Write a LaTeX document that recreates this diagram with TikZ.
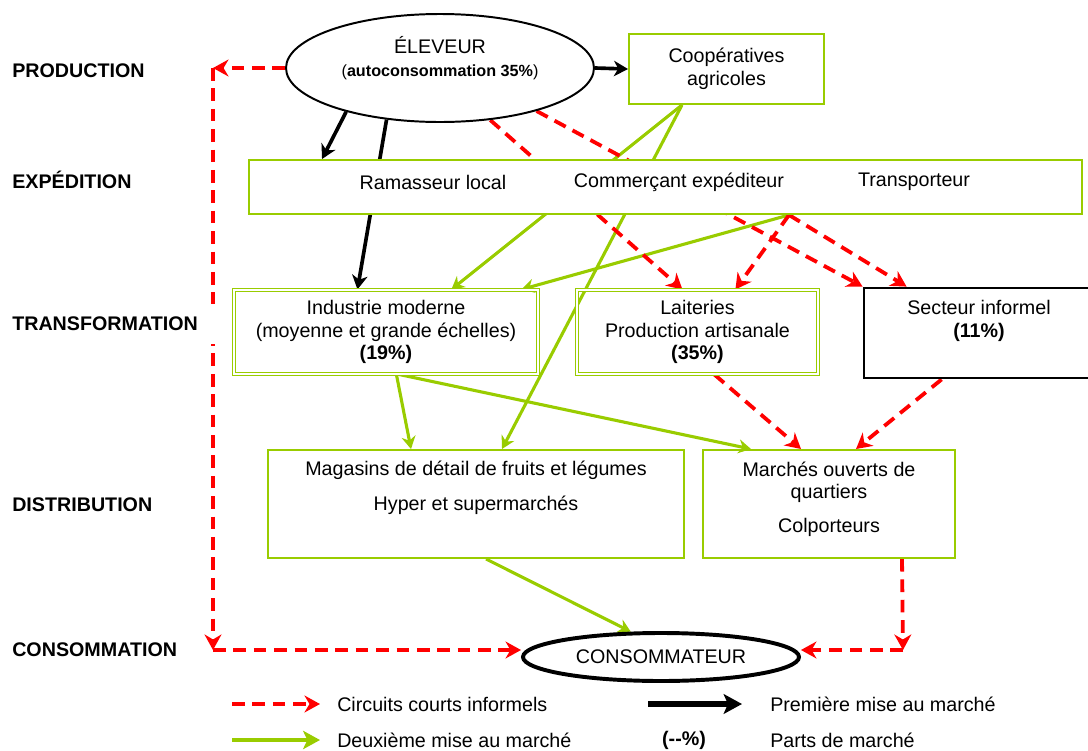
\documentclass[tikz,border=0pt]{standalone}
\usepackage{fontspec}
\setmainfont{Liberation Sans}
\usetikzlibrary{arrows.meta,calc,shapes.geometric,backgrounds}
\definecolor{vert}{RGB}{153,204,0}
\definecolor{rouge}{RGB}{255,0,0}
\newdimen\pxu \pxu=0.025cm
\tikzset{
  txt/.style={font=\fontsize{14}{16}\selectfont, align=center, inner sep=0pt},
  etape/.style={font=\fontsize{14}{16}\selectfont\bfseries, anchor=west, inner sep=0pt},
  ell/.style={ellipse, draw, inner sep=0pt},
  boxg/.style={draw=vert, line width=1.4pt},
  boxd/.style={draw=vert, double, double distance=1.6pt, line width=0.8pt},
  noir/.style={draw=black, line width=2.6pt, -{Stealth[length=10pt,width=11pt,inset=3pt]}},
  vertf/.style={draw=vert, line width=2.2pt, -{Stealth[length=9pt,width=10pt,inset=3pt]}},
  rougef/.style={draw=rouge, line width=2.7pt, dash pattern=on 9pt off 5.5pt, -{Stealth[length=11pt,width=12pt,inset=3.5pt]}}
}
\begin{document}
\begin{tikzpicture}[x=0.025cm, y=-0.025cm]
    \useasboundingbox (0,0) rectangle (1088,751);

    \node[etape] (prod) at (12,71) {PRODUCTION};
    \node[etape] (exped) at (12,180) {EXPÉDITION};
    \node[etape, fill=white, text width=204\pxu, minimum height=40\pxu] (transf) at (12,324) {TRANSFORMATION};
    \node[etape] (distr) at (12,505) {DISTRIBUTION};
    \node[etape] (consolbl) at (12,650) {CONSOMMATION};

    \node[ell, line width=1.4pt, minimum width=308\pxu, minimum height=108\pxu] (eleveur) at (440,68) {};
    \node[txt] (eleveurtxt) at (440,58) {ÉLEVEUR\\{\fontsize{11.5}{13}\selectfont(\textbf{autoconsommation 35\%})}};
    \node[boxg, txt, minimum width=195\pxu, minimum height=70\pxu] (coop) at (726.5,69) {Coopératives\\agricoles};

    \node[boxg, fill=white, minimum width=833\pxu, minimum height=54\pxu] (expe) at (665.5,187) {};
    \node[txt] (ramasseur) at (433,182) {Ramasseur local};
    \node[txt] (commercant) at (679,182) {Commerçant expéditeur};
    \node[txt] (transp) at (914,182) {Transporteur};

    \node[boxd, txt, minimum width=304\pxu, minimum height=84\pxu] (ind) at (386,332) {Industrie moderne\\(moyenne et grande échelles)\\\textbf{(19\%)}};
    \node[boxd, txt, minimum width=241\pxu, minimum height=84\pxu] (lait) at (697.5,332) {Laiteries\\Production artisanale\\\textbf{(35\%)}};
    \node[draw, line width=2pt, minimum width=230\pxu, minimum height=90\pxu] (sect) at (979,333) {};
    \node[txt] (secttxt) at (979,321) {Secteur informel\\\textbf{(11\%)}};

    \node[boxg, minimum width=416\pxu, minimum height=108\pxu] (mag) at (476,504) {};
    \node[txt] (magtxt) at (476,488) {Magasins de détail de fruits et légumes\\[9pt]Hyper et supermarchés};
    \node[boxg, minimum width=252\pxu, minimum height=108\pxu] (mar) at (829,504) {};
    \node[txt] (martxt) at (829,499) {Marchés ouverts de\\quartiers\\[8pt]Colporteurs};

    \node[ell, txt, line width=2.8pt, minimum width=276\pxu, minimum height=48\pxu] (conso) at (661,657) {CONSOMMATEUR};

    \coordinate (hg) at (213,68);
    \coordinate (bg) at (213,650);
    \coordinate (bd) at (903,650);

    \begin{scope}[on background layer]
    \draw[noir] (eleveur.east) -- (coop.west);
    \draw[noir] (eleveur.205) -- ($(expe.north west)+(74,0)$);
    \draw[noir] (eleveur.224) -- ($(ind.north west)+(124,0)$);

    \draw[vertf] ($(coop.south west)+(54,0)$) -- ($(ind.north west)+(218,0)$);
    \draw[vertf] ($(coop.south west)+(54,0)$) -- ($(mag.north west)+(235,0)$);
    \draw[vertf] ($(expe.south west)+(541,0)$) -- ($(ind.north west)+(288,0)$);
    \draw[vertf] ($(ind.south west)+(163,0)$) -- ($(mag.north west)+(144,0)$);
    \draw[vertf] ($(ind.south west)+(166,0)$) -- ($(mar.north west)+(49,0)$);
    \draw[vertf] ($(mag.south west)+(219,0)$) -- (conso.140);

    \draw[rougef] (eleveur.west) -- (hg);
    \draw[rougef] (hg) -- (bg);
    \draw[rougef] (bg) -- (bg -| conso.west);
    \draw[rougef] (eleveur.314) -- ($(lait.north west)+(106,0)$);
    \draw[rougef] (eleveur.336) -- (sect.north west);
    \draw[rougef] ($(expe.south west)+(541,0)$) -- ($(lait.north west)+(159,0)$);
    \draw[rougef] ($(expe.south west)+(541,0)$) -- ($(sect.north west)+(44,0)$);
    \draw[rougef] ($(lait.south west)+(138,0)$) -- ($(mar.north west)+(99,0)$);
    \draw[rougef] ($(sect.south west)+(79,0)$) -- ($(mar.north west)+(154,0)$);
    \draw[rougef] ($(mar.south west)+(200,0)$) -- (bd);
    \draw[rougef] (bd) -- (bd -| conso.east);
    \end{scope}

    \coordinate (la1) at (232,704);
    \coordinate (la2) at (320,704);
    \coordinate (lb1) at (648,704);
    \coordinate (lb2) at (742,704);
    \coordinate (lc1) at (232,740);
    \coordinate (lc2) at (320,740);
    \draw[rougef, line width=3pt] (la1) -- (la2);
    \draw[noir, line width=4pt, -{Stealth[length=13pt,width=14pt,inset=3pt]}] (lb1) -- (lb2);
    \draw[vertf, line width=3.5pt, -{Stealth[length=12pt,width=13pt,inset=3pt]}] (lc1) -- (lc2);
    \node[txt, anchor=west] (leg1) at (337,704) {Circuits courts informels};
    \node[txt, anchor=west] (leg2) at (770,704) {Première mise au marché};
    \node[txt, anchor=west] (leg3) at (337,740) {Deuxième mise au marché};
    \node[txt] (leg4) at (684,740) {\textbf{(-{}-\%)}};
    \node[txt, anchor=west] (leg5) at (770,740) {Parts de marché};
\end{tikzpicture}
\end{document}
